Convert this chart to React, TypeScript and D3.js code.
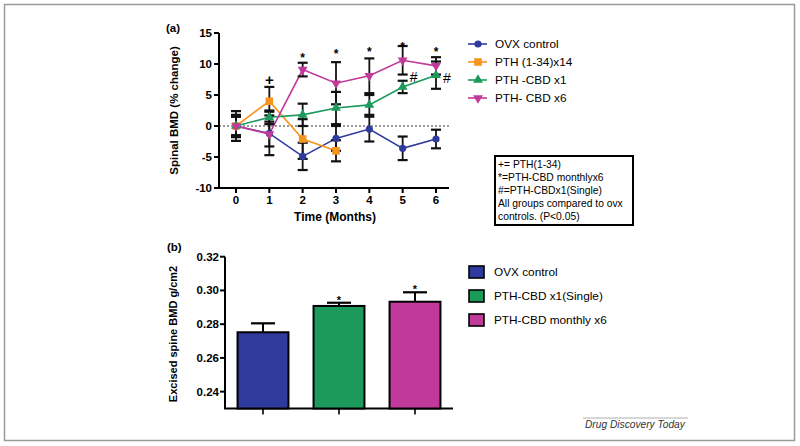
import React from "react";
import * as d3 from "d3";

// ---------- Data: panel (a) ----------
const months = [0, 1, 2, 3, 4, 5, 6];
const ovxMean = [0, -1.2, -4.9, -2.0, -0.5, -3.6, -2.1];
const ovxErr = [2.4, 3.5, 2.2, 2.0, 2.0, 1.9, 1.5];
const pthMean = [0, 4.0, -2.1, -4.0];
const pthErr = [1.5, 2.3, 3.2, 1.7];
const cbd1Mean = [0, 1.4, 1.8, 2.9, 3.4, 6.3, 8.2];
const cbd1Err = [1.8, 1.1, 1.8, 2.6, 1.6, 1.0, 2.2];
const cbd6Mean = [0, -1.3, 9.1, 6.9, 8.1, 10.6, 9.7];
const cbd6Err = [1.5, 2.0, 1.1, 3.4, 2.8, 2.3, 1.4];
const yTicksA = [-10, -5, 0, 5, 10, 15];
const seriesNames = ["OVX control", "PTH (1-34)x14", "PTH -CBD x1", "PTH- CBD x6"];
const starMonths = [2, 3, 4, 5, 6];
const starValues = [11.45, 12.15, 12.5, 13.3, 12.4];
const plusMonth = 1;
const plusValue = 7.4;
const hashMonths = [5, 6];
const hashValues = [7.9, 7.7];
const noteLines = [
  "+= PTH(1-34)",
  "*=PTH-CBD monthlyx6",
  "#=PTH-CBDx1(Single)",
  "All groups compared to ovx",
  "controls. (P<0.05)",
];

// ---------- Data: panel (b) ----------
const barGroups = ["OVX control", "PTH-CBD x1(Single)", "PTH-CBD monthly x6"];
const barValues = [0.2752, 0.2908, 0.2933];
const barErrs = [0.0053, 0.0019, 0.0056];
const barStars = [false, true, true];
const yTicksB = [0.24, 0.26, 0.28, 0.3, 0.32];

const BLUE = "#2e3a9c";
const ORANGE = "#f7941d";
const GREEN = "#1b9a5c";
const MAGENTA = "#c1399b";
const FONT = "'Liberation Sans', Arial, Helvetica, sans-serif";

type Shape = "circle" | "square" | "tri" | "dtri";

function Marker({ x, y, shape, color }: { x: number; y: number; shape: Shape; color: string }) {
  if (shape === "circle") return <circle cx={x} cy={y} r={3.6} fill={color} />;
  if (shape === "square") return <rect x={x - 3.8} y={y - 3.8} width={7.6} height={7.6} fill={color} />;
  const sym = d3.symbol().type(d3.symbolTriangle).size(42)();
  return (
    <path d={sym || ""} fill={color} transform={`translate(${x},${y}) rotate(${shape === "dtri" ? 180 : 0})`} />
  );
}

export default function App() {
  // panel (a) scales
  const xA = d3.scaleLinear().domain([0, 6]).range([236, 436]);
  const yA = d3.scaleLinear().domain([-10, 15]).range([188, 33]);
  const axisLeftA = 219;
  const axisRightA = 449;

  const series = [
    { name: seriesNames[0], mean: ovxMean, err: ovxErr, color: BLUE, shape: "circle" as Shape },
    { name: seriesNames[1], mean: pthMean, err: pthErr, color: ORANGE, shape: "square" as Shape },
    { name: seriesNames[2], mean: cbd1Mean, err: cbd1Err, color: GREEN, shape: "tri" as Shape },
    { name: seriesNames[3], mean: cbd6Mean, err: cbd6Err, color: MAGENTA, shape: "dtri" as Shape },
  ];

  const line = d3
    .line<number>()
    .x((_, i) => xA(months[i]))
    .y((d) => yA(d));

  // panel (b) scales
  const xB = d3.scaleBand<string>().domain(barGroups).range([225, 453]).paddingInner(0.33).paddingOuter(0.165);
  const yB = d3.scaleLinear().domain([0.23, 0.32]).range([408.5, 256.7]);
  const barColors = [BLUE, GREEN, MAGENTA];

  return (
    <svg
      width={800}
      height={446}
      style={{ position: "absolute", left: 0, top: 0, background: "#fff" }}
      fontFamily={FONT}
    >
      <rect x={4.5} y={4.5} width={790} height={436} fill="none" stroke="#9a9a9a" strokeWidth={1.5} />

      {/* ---------------- Panel (a) ---------------- */}
      <text x={166} y={32} fontSize={11.5} fontWeight="bold">(a)</text>
      <text
        transform={`translate(175,${yA(2.5)}) rotate(-90)`}
        textAnchor="middle"
        fontSize={11.5}
        fontWeight="bold"
        dominantBaseline="middle"
      >
        Spinal BMD (% change)
      </text>
      {/* y axis */}
      <line x1={axisLeftA} x2={axisLeftA} y1={yA(15)} y2={yA(-10)} stroke="#000" strokeWidth={2} />
      {yTicksA.map((t) => (
        <g key={t}>
          <line x1={axisLeftA - 5} x2={axisLeftA} y1={yA(t)} y2={yA(t)} stroke="#000" strokeWidth={2} />
          <text x={axisLeftA - 7} y={yA(t)} textAnchor="end" dominantBaseline="central" fontSize={11.5} fontWeight="bold">
            {t}
          </text>
        </g>
      ))}
      {/* x axis */}
      <line x1={axisLeftA - 1} x2={axisRightA} y1={yA(-10)} y2={yA(-10)} stroke="#000" strokeWidth={2} />
      {months.map((m) => (
        <g key={m}>
          <line x1={xA(m)} x2={xA(m)} y1={yA(-10)} y2={yA(-10) + 5} stroke="#000" strokeWidth={2} />
          <text x={xA(m)} y={yA(-10) + 16} textAnchor="middle" fontSize={11.5} fontWeight="bold">
            {m}
          </text>
        </g>
      ))}
      <text x={(axisLeftA + axisRightA) / 2 + 1} y={221} textAnchor="middle" fontSize={12} fontWeight="bold">
        Time (Months)
      </text>
      {/* zero reference */}
      <line x1={axisLeftA} x2={axisRightA} y1={yA(0)} y2={yA(0)} stroke="#000" strokeWidth={0.8} strokeDasharray="2,2" />

      {/* lines */}
      {series.map((s) => (
        <path key={s.name} d={line(s.mean) || ""} fill="none" stroke={s.color} strokeWidth={1.6} />
      ))}
      {/* error bars */}
      {series.map((s) =>
        s.mean.map((v, i) => {
          const x = xA(months[i]);
          const yt = yA(v + s.err[i]);
          const yb = yA(v - s.err[i]);
          return (
            <g key={s.name + i} stroke="#111">
              <line x1={x} x2={x} y1={yt} y2={yb} strokeWidth={1.8} />
              <line x1={x - 5} x2={x + 5} y1={yt} y2={yt} strokeWidth={2.2} />
              <line x1={x - 5} x2={x + 5} y1={yb} y2={yb} strokeWidth={2.2} />
            </g>
          );
        })
      )}
      {/* markers */}
      {series.map((s) =>
        s.mean.map((v, i) => <Marker key={s.name + "m" + i} x={xA(months[i])} y={yA(v)} shape={s.shape} color={s.color} />)
      )}
      {/* significance */}
      {starMonths.map((m, i) => (
        <text key={"s" + m} x={xA(m)} y={yA(starValues[i]) + 7} textAnchor="middle" fontSize={12} fontWeight="bold">
          *
        </text>
      ))}
      <text x={xA(plusMonth)} y={yA(plusValue) + 5} textAnchor="middle" fontSize={15} fontWeight="bold">
        +
      </text>
      {hashMonths.map((m, i) => (
        <text key={"h" + m} x={xA(m) + 11} y={yA(hashValues[i]) + 5} textAnchor="middle" fontSize={14}>
          #
        </text>
      ))}

      {/* legend (a) */}
      {series.map((s, i) => {
        const y = 44 + i * 18;
        return (
          <g key={"lg" + s.name}>
            <line x1={468} x2={487} y1={y} y2={y} stroke={s.color} strokeWidth={1.6} />
            <Marker x={478} y={y} shape={s.shape} color={s.color} />
            <text x={495} y={y} dominantBaseline="central" fontSize={11.8}>
              {s.name}
            </text>
          </g>
        );
      })}

      {/* note box */}
      <rect x={495} y={156} width={138} height={69} fill="#fff" stroke="#000" strokeWidth={2} />
      {noteLines.map((t, i) => (
        <text key={t} x={498} y={168 + i * 13} fontSize={10.3}>
          {t}
        </text>
      ))}

      {/* ---------------- Panel (b) ---------------- */}
      <text x={167} y={251} fontSize={11.5} fontWeight="bold">(b)</text>
      <text
        transform={`translate(174,${334}) rotate(-90)`}
        textAnchor="middle"
        dominantBaseline="middle"
        fontSize={11}
        fontWeight="bold"
      >
        Excised spine BMD g/cm2
      </text>
      <line x1={225} x2={225} y1={yB(0.32)} y2={yB(0.23)} stroke="#000" strokeWidth={2} />
      {yTicksB.map((t) => (
        <g key={t}>
          <line x1={220} x2={225} y1={yB(t)} y2={yB(t)} stroke="#000" strokeWidth={2} />
          <text x={219} y={yB(t)} textAnchor="end" dominantBaseline="central" fontSize={11.5} fontWeight="bold">
            {t.toFixed(2)}
          </text>
        </g>
      ))}
      <line x1={224} x2={453} y1={yB(0.23)} y2={yB(0.23)} stroke="#000" strokeWidth={2} />
      {barGroups.map((g, i) => {
        const x0 = xB(g) as number;
        const w = xB.bandwidth();
        const cx = x0 + w / 2;
        const top = yB(barValues[i]);
        const cap = yB(barValues[i] + barErrs[i]);
        return (
          <g key={g}>
            <line x1={cx} x2={cx} y1={yB(0.23)} y2={yB(0.23) + 6} stroke="#000" strokeWidth={1.6} />
            <line x1={cx} x2={cx} y1={top} y2={cap} stroke="#000" strokeWidth={2} />
            <line x1={cx - 12} x2={cx + 12} y1={cap} y2={cap} stroke="#000" strokeWidth={2.2} />
            <rect x={x0} y={top} width={w} height={yB(0.23) - top} fill={barColors[i]} stroke="#000" strokeWidth={2} />
            {barStars[i] && (
              <text x={cx} y={cap + 1} textAnchor="middle" fontSize={11} fontWeight="bold">
                *
              </text>
            )}
          </g>
        );
      })}
      {/* legend (b) */}
      {barGroups.map((g, i) => {
        const y = 272 + i * 24;
        return (
          <g key={"lb" + g}>
            <rect x={469} y={y - 6} width={15} height={12} fill={barColors[i]} stroke="#000" strokeWidth={1.6} />
            <text x={494} y={y} dominantBaseline="central" fontSize={11.8}>
              {g}
            </text>
          </g>
        );
      })}

      {/* credit */}
      <line x1={583} x2={688} y1={418} y2={418} stroke="#999" strokeWidth={0.8} />
      <text x={585} y={428} fontSize={10.2} fontStyle="italic" fill="#333">
        Drug Discovery Today
      </text>
    </svg>
  );
}
